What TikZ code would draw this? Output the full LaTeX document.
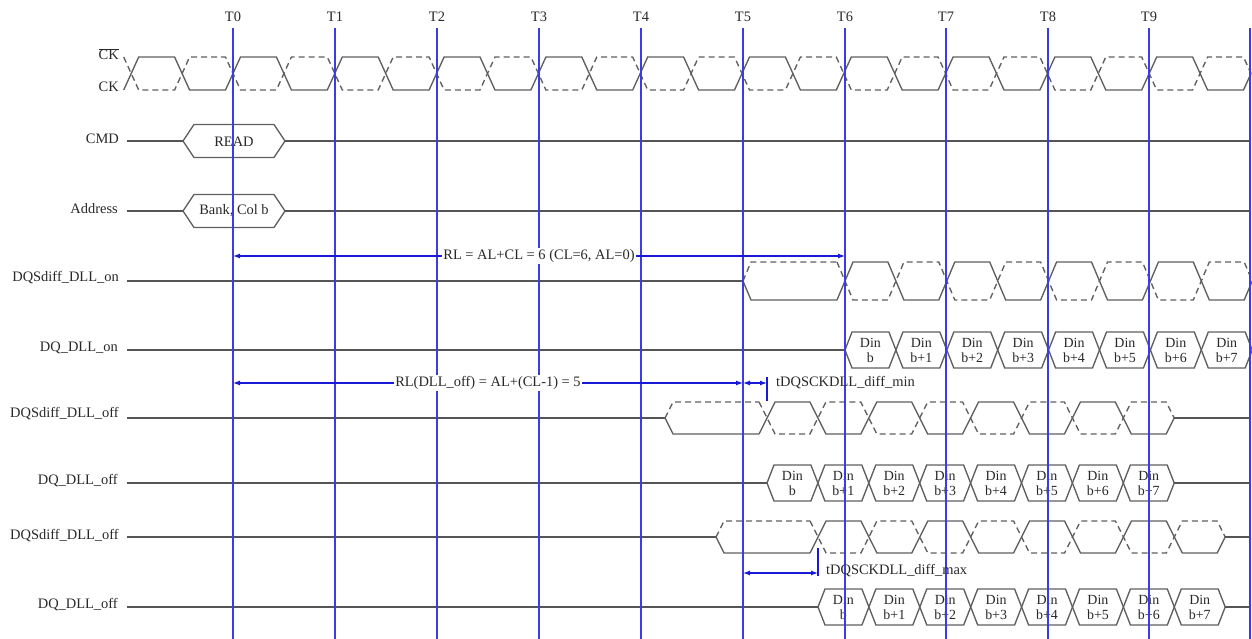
\documentclass[tikz,border=0pt]{standalone}
\usepackage{fontspec}
\setmainfont{Liberation Serif}
\usetikzlibrary{arrows.meta}
\definecolor{vlinec}{RGB}{60,60,230}
\definecolor{alinec}{RGB}{25,25,215}
\definecolor{wavec}{RGB}{95,95,95}
\definecolor{sigc}{RGB}{85,85,85}
\definecolor{txtc}{RGB}{40,40,40}
\newcommand{\hp}{50.9}
% differential toggling body: c0, n, mid, half, t
\newcommand{\dsigbody}[5]{%
  \pgfmathtruncatemacro{\dsn}{#2-1}%
  \draw[wave] ({#1-#5},{#3+#4}) \foreach \k in {0,...,\dsn} { -- ({#1+\k*\hp+#5},{#3+(2*mod(\k,2)-1)*#4}) -- ({#1+(\k+1)*\hp-#5},{#3+(2*mod(\k,2)-1)*#4}) } -- ({#1+#2*\hp},#3);
  \draw[dwave] ({#1-#5},{#3-#4}) \foreach \k in {0,...,\dsn} { -- ({#1+\k*\hp+#5},{#3-(2*mod(\k,2)-1)*#4}) -- ({#1+(\k+1)*\hp-#5},{#3-(2*mod(\k,2)-1)*#4}) } -- ({#1+#2*\hp},#3);
}
% preamble: p, c0, mid, half, t
\newcommand{\preamb}[5]{%
  \draw[wave] (#1,#3) -- ({#1+#5},{#3+#4}) -- ({#2-#5},{#3+#4});
  \draw[dwave] (#1,#3) -- ({#1+#5},{#3-#4}) -- ({#2-#5},{#3-#4});
}
% data eyes: start, mid, name
\newcommand{\dqrow}[3]{%
  \foreach \k/\lab in {0/b,1/b+1,2/b+2,3/b+3,4/b+4,5/b+5,6/b+6,7/b+7} {
    \draw[wave] ({#1+\k*\hp},#2) -- ({#1+\k*\hp+7},{#2-18}) -- ({#1+(\k+1)*\hp-7},{#2-18}) -- ({#1+(\k+1)*\hp},#2) -- ({#1+(\k+1)*\hp-7},{#2+18}) -- ({#1+\k*\hp+7},{#2+18}) -- cycle;
    \node[dat] (#3-\k) at ({#1+(\k+0.5)*\hp},{#2+0.5}) {Din\\\lab};
  }
}
\begin{document}
\begin{tikzpicture}[x=1bp,y=-1bp,
  wave/.style={draw=wavec, line width=1.35bp},
  dwave/.style={wave, dash pattern=on 6bp off 4bp},
  sig/.style={draw=sigc, line width=1.4bp},
  vl/.style={draw=vlinec, line width=2bp},
  tick/.style={draw=alinec, line width=1.4bp},
  dim/.style={draw=alinec, line width=1.2bp, {Latex[length=7bp,width=5bp]}-{Latex[length=7bp,width=5bp]}},
  lab/.style={font=\fontsize{14.5}{16}\selectfont, text=txtc, inner sep=0pt, anchor=east},
  tl/.style={font=\fontsize{14.5}{16}\selectfont, text=txtc, inner sep=0pt},
  dat/.style={font=\fontsize{14}{15}\selectfont, text=txtc, align=center, inner sep=0pt},
  arlab/.style={font=\fontsize{14.5}{16}\selectfont, text=txtc, inner sep=1pt, fill=white}]
\useasboundingbox (0,0) rectangle (1252,639);

% ---- signal labels ----
\node[lab] (ckb) at (119,54) {$\overline{\mbox{CK}}$};
\node[lab] (ck) at (119,87) {CK};
\node[lab] (cmd) at (119,139) {CMD};
\node[lab] (addr) at (118,209) {Address};
\node[lab] (dqson) at (119,278) {DQSdiff\_DLL\_on};
\node[lab] (dqon) at (118,348) {DQ\_DLL\_on};
\node[lab] (dqsoff1) at (119,414) {DQSdiff\_DLL\_off};
\node[lab] (dqoff1) at (118,481) {DQ\_DLL\_off};
\node[lab] (dqsoff2) at (119,536) {DQSdiff\_DLL\_off};
\node[lab] (dqoff2) at (118,605) {DQ\_DLL\_off};

% ---- clock ----
\dsigbody{131.2}{22}{73.5}{16.5}{7.5}

% ---- CMD / Address ----
\draw[sig] (127,141) -- (183,141);
\draw[wave] (183,141) -- (194,124.5) -- (274,124.5) -- (285,141) -- (274,157.5) -- (194,157.5) -- cycle;
\draw[sig] (285,141) -- (1251,141);
\node[tl] (read) at (234,142) {READ};
\draw[sig] (127,211) -- (183,211);
\draw[wave] (183,211) -- (194,194.5) -- (274,194.5) -- (285,211) -- (274,227.5) -- (194,227.5) -- cycle;
\draw[sig] (285,211) -- (1251,211);
\node[tl] (bank) at (234,211) {Bank, Col b};

% ---- DQS DLL on ----
\draw[sig] (127,281) -- (743,281);
\preamb{743}{845}{281}{19}{8}
\dsigbody{845}{8}{281}{19}{8}

% ---- DQ DLL on ----
\draw[sig] (127,350) -- (845,350);
\dqrow{845}{350}{dqa}

% ---- DQS DLL off (1) ----
\draw[sig] (127,418) -- (665,418);
\preamb{665}{767}{418}{16}{8}
\dsigbody{767}{8}{418}{16}{8}
\draw[sig] (1174.2,418) -- (1251,418);

% ---- DQ DLL off (1) ----
\draw[sig] (127,483) -- (767,483);
\dqrow{767}{483}{dqb}
\draw[sig] (1174.2,483) -- (1251,483);

% ---- DQS DLL off (2) ----
\draw[sig] (127,537) -- (716,537);
\preamb{716}{818}{537}{16}{8}
\dsigbody{818}{8}{537}{16}{8}
\draw[sig] (1225.2,537) -- (1251,537);

% ---- DQ DLL off (2) ----
\draw[sig] (127,607) -- (818,607);
\dqrow{818}{607}{dqc}
\draw[sig] (1225.2,607) -- (1251,607);

% ---- clock edge lines ----
\foreach \i/\xx in {0/233,1/335,2/437,3/539,4/641,5/743,6/845,7/946,8/1048,9/1149,10/1250} {
  \coordinate (T\i) at (\xx,28);
  \coordinate (B\i) at (\xx,639);
  \draw[vl] (T\i) -- (B\i);
}
\foreach \i in {0,...,9} {
  \node[tl] (lt\i) at (T\i |- 0,17) {T\i};
}

% ---- timing arrows ----
\draw[dim] (T0 |- 0,256) -- (T6 |- 0,256);
\node[arlab] (rl) at (539,256) {RL = AL+CL = 6 (CL=6, AL=0)};
\draw[dim] (T0 |- 0,383) -- (T5 |- 0,383);
\node[arlab] (rloff) at (488,383) {RL(DLL\_off) = AL+(CL-1) = 5};
\coordinate (mnA) at (767,377);
\coordinate (mnB) at (767,401);
\draw[tick] (mnA) -- (mnB);
\draw[dim] (T5 |- 0,383) -- (mnA |- 0,383);
\node[tl, anchor=west] (dmin) at (776,383) {tDQSCKDLL\_diff\_min};
\coordinate (mxA) at (818,548);
\coordinate (mxB) at (818,576);
\draw[tick] (mxA) -- (mxB);
\draw[dim] (T5 |- 0,573) -- (mxA |- 0,573);
\node[tl, anchor=west] (dmax) at (826,571) {tDQSCKDLL\_diff\_max};
\end{tikzpicture}
\end{document}
